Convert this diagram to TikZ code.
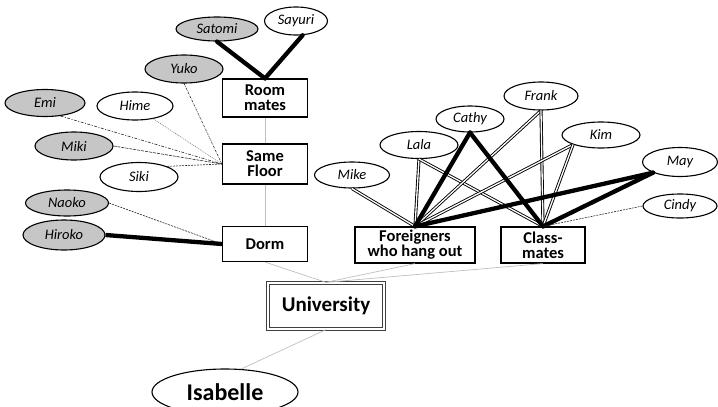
\documentclass[tikz,border=0pt]{standalone}
\usepackage{fontspec}
\setmainfont{Carlito}
\usetikzlibrary{shapes.geometric}
\begin{document}
\begin{tikzpicture}[x=1pt,y=-1pt,
  box/.style={draw=black,line width=1.2pt,fill=white,inner sep=0pt,align=center,
    font=\bfseries\fontsize{16.5}{15}\selectfont},
  person/.style={ellipse,draw=black,line width=1.1pt,fill=white,inner sep=0pt,
    font=\itshape\fontsize{14.5}{15}\selectfont},
  shaded/.style={person,fill=gray!45},
  thin/.style={draw=gray!50,line width=0.7pt},
  thick/.style={line width=4.3pt,line cap=round},
  dbl/.style={double=white,double distance=1.3pt,line width=0.9pt},
  dd/.style={line width=0.6pt,draw=black!85}]
\useasboundingbox (0,0) rectangle (718,407);
% boxes
\node[box,minimum width=85,minimum height=38] (rm) at (265,98) {Room\\mates};
\node[box,minimum width=85,minimum height=40] (sf) at (265,164) {Same\\Floor};
\node[box,minimum width=85,minimum height=35] (dorm) at (265,244) {Dorm};
\node[box,minimum width=120,minimum height=36] (fh) at (415,245) {Foreigners\\who hang out};
\node[box,minimum width=84,minimum height=36] (cm) at (543,245) {Class-\\mates};
\node[box,draw=black!75,double=white,double distance=1.6pt,line width=1.3pt,
  minimum width=116,minimum height=46,font=\bfseries\fontsize{21}{22}\selectfont]
  (uni) at (326,306) {University};
\node[ellipse,draw=black,line width=1.1pt,fill=white,inner sep=0pt,minimum width=146,
  minimum height=46,font=\bfseries\fontsize{24}{24}\selectfont] (isa) at (225,392) {Isabelle};
% people
\node[shaded,minimum width=82,minimum height=24] (satomi) at (217,29) {Satomi};
\node[person,minimum width=63,minimum height=28] (sayuri) at (296,21) {Sayuri};
\node[shaded,minimum width=78,minimum height=28] (yuko) at (184,69) {Yuko};
\node[shaded,minimum width=80,minimum height=27] (emi) at (45,103) {Emi};
\node[person,minimum width=76,minimum height=28] (hime) at (135,106) {Hime};
\node[shaded,minimum width=78,minimum height=28] (miki) at (74,146) {Miki};
\node[person,minimum width=78,minimum height=29] (siki) at (139,177) {Siki};
\node[shaded,minimum width=83,minimum height=26] (naoko) at (67,203) {Naoko};
\node[shaded,minimum width=82,minimum height=30] (hiroko) at (64,235) {Hiroko};
\node[person,minimum width=75,minimum height=26] (mike) at (352,175) {Mike};
\node[person,minimum width=78,minimum height=27] (lala) at (419,145) {Lala};
\node[person,minimum width=68,minimum height=26] (cathy) at (470,119) {Cathy};
\node[person,minimum width=74,minimum height=28] (frank) at (541,96) {Frank};
\node[person,minimum width=78,minimum height=26] (kim) at (601,135) {Kim};
\node[person,minimum width=75,minimum height=29] (may) at (680,162) {May};
\node[person,minimum width=74,minimum height=24] (cindy) at (680,206) {Cindy};
% gray structure lines
\draw[thin] (rm.south) -- (sf.north);
\draw[thin] (sf.south) -- (dorm.north);
\draw[thin] (dorm.south) -- (uni.north);
\draw[thin] (fh.south) -- (uni.north);
\draw[thin] (cm.south) -- (uni.north);
\draw[thin] (uni.south) -- (isa.55);
% room mates
\draw[thick] (satomi.south) -- (rm.north);
\draw[thick] (sayuri.-65) -- (rm.north);
% same floor
\draw[dd,dash pattern=on 2pt off 1pt on 0.6pt off 1pt] (yuko.south) -- (sf.west);
\draw[dd,dash pattern=on 3pt off 1.5pt on 1pt off 1.5pt] (emi.-40) -- (sf.west);
\draw[dd,gray,dash pattern=on 1pt off 1pt] (hime.-35) -- (sf.west);
\draw[dd,dash pattern=on 3pt off 1pt] (miki.east) -- (sf.west);
\draw[dd,dash pattern=on 2pt off 1pt] (siki.north east) -- (sf.west);
% dorm
\draw[dd,dash pattern=on 2pt off 1pt] (naoko.east) -- (dorm.west);
\draw[line width=4.3pt] (hiroko.east) -- (dorm.west);
% foreigners and classmates
\draw[dbl] (mike.south) -- (fh.north);
\draw[dbl] (lala.south) -- (fh.north);
\draw[dbl] (lala.south) -- (cm.north);
\draw[dbl] (frank.south) -- (fh.north);
\draw[dbl] (frank.south) -- (cm.north);
\draw[dbl] (kim.south west) -- (fh.north);
\draw[dbl] (kim.south west) -- (cm.north);
\draw[thick] (cathy.south) -- (fh.north);
\draw[thick] (cathy.south) -- (cm.north);
\draw[thick] (may.south west) -- (fh.north);
\draw[thick] (may.south west) -- (cm.north);
\draw[dd,dash pattern=on 2pt off 1pt] (cindy.west) -- (cm.north);
\end{tikzpicture}
\end{document}
